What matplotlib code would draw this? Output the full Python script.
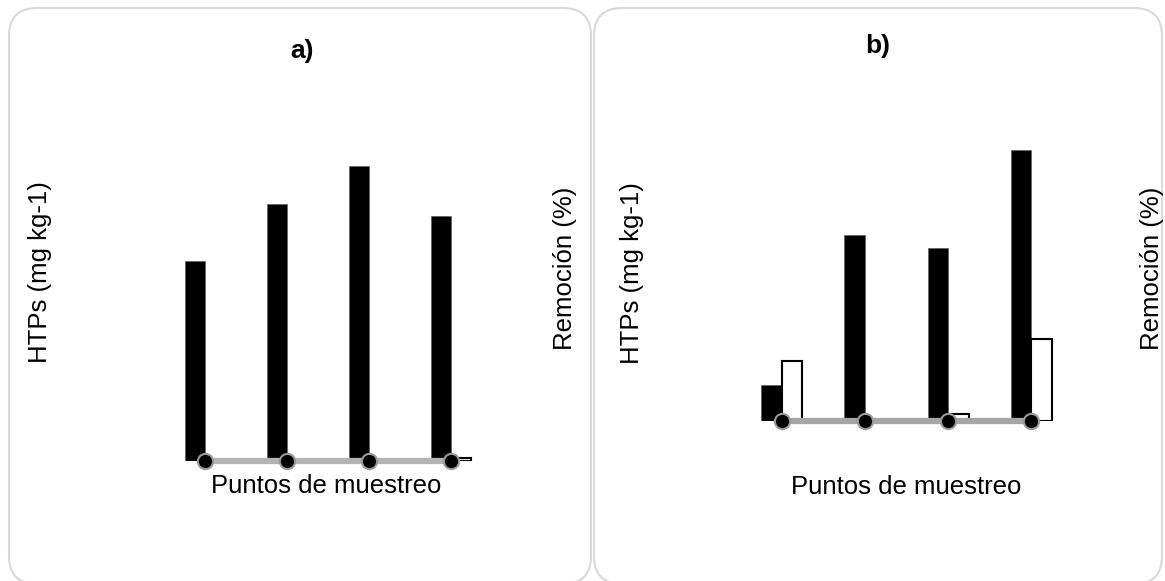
#!/usr/bin/env python3
"""Two-panel HTPs / Remoción chart (a, b) with rounded panel frames."""

import matplotlib
matplotlib.use('Agg')
import matplotlib.pyplot as plt
import numpy as np
from matplotlib.patches import FancyBboxPatch
from matplotlib.transforms import IdentityTransform

plt.rcParams.update({
    'font.family': ['Liberation Sans', 'DejaVu Sans'],
    'font.size': 18.5,
    'figure.facecolor': 'white',
})

W_PX, H_PX = 1165, 581
DPI = 100

# Sampling points (no tick labels shown in the original)
puntos = ['P1', 'P2', 'P3', 'P4']

# Panel a
htps_a = [200, 257, 295, 245]
htps_a2 = [0, 0, 0, 3]
remocion_a = [0, 0, 0, 0]

# Panel b
htps_b = [36, 186, 173, 271]
htps_b2 = [60, 0, 7, 82]
remocion_b = [0, 0, 0, 0]

COLORS = {
    'bar': '#000000',
    'line': '#b4b4b4',
    'frame': '#d9d9d9',
    'text': '#000000',
}


def fx(px):
    return px / W_PX


def fy(py):
    # py measured from the top of the image
    return 1 - py / H_PX


def panel(fig, left, right, base, top, black, white, rem, ymax, line_color):
    ax = fig.add_axes([fx(left), fy(base), fx(right - left), (base - top) / H_PX])
    x = np.arange(len(puntos))
    w = 0.245
    ax.bar(x - w / 2, black, w, color=COLORS['bar'], edgecolor='#555555', linewidth=0.4)
    ax.bar(x + w / 2, white, w, color='white', edgecolor='black', linewidth=1.5)
    ax.set_xlim(-0.5, len(puntos) - 0.5)
    ax.set_ylim(0, ymax)
    ax.axis('off')

    ax2 = ax.twinx()
    ax2.plot(x, rem, color=line_color, linewidth=4.5, solid_capstyle='butt',
             marker='o', markersize=11, markerfacecolor='black',
             markeredgecolor='#9a9a9a', markeredgewidth=1.5, clip_on=False, zorder=5)
    ax2.set_ylim(0, 100)
    ax2.axis('off')
    return ax


def frame(fig, x0, y0, x1, y1):
    # pixel coords from top-left
    box = FancyBboxPatch((x0, H_PX - y1), x1 - x0, y1 - y0,
                         boxstyle='round,pad=0,rounding_size=28',
                         transform=IdentityTransform(), facecolor='none',
                         edgecolor=COLORS['frame'], linewidth=1.5)
    fig.add_artist(box)


def main():
    fig = plt.figure(figsize=(W_PX / DPI, H_PX / DPI), dpi=DPI)

    frame(fig, 9, 8, 591, 584)
    frame(fig, 594, 8, 1162, 584)

    panel(fig, 164, 492, 461, 131, htps_a, htps_a2, remocion_a, 330, COLORS['line'])
    panel(fig, 740, 1073, 421, 121, htps_b, htps_b2, remocion_b, 300, '#a6a6a6')

    fig.text(fx(302), fy(51), 'a)', ha='center', va='center', fontsize=19, fontweight='bold')
    fig.text(fx(878), fy(46), 'b)', ha='center', va='center', fontsize=19, fontweight='bold')

    fig.text(fx(326), fy(493), 'Puntos de muestreo', ha='center', va='baseline')
    fig.text(fx(906), fy(494), 'Puntos de muestreo', ha='center', va='baseline')

    fig.text(fx(40), fy(272), 'HTPs (mg kg-1)', rotation=90, ha='center', va='center')
    fig.text(fx(565), fy(268), 'Remoción (%)', rotation=90, ha='center', va='center')
    fig.text(fx(632), fy(273), 'HTPs (mg kg-1)', rotation=90, ha='center', va='center')
    fig.text(fx(1152), fy(268), 'Remoción (%)', rotation=90, ha='center', va='center')

    fig.savefig('out.png', dpi=DPI, facecolor='white')
    plt.close(fig)


if __name__ == '__main__':
    main()
